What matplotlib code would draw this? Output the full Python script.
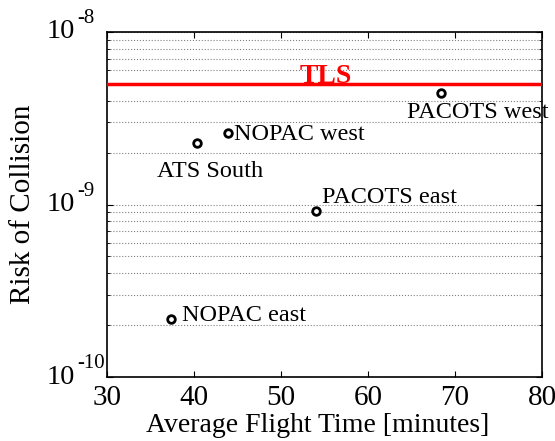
import matplotlib
matplotlib.use("Agg")
import matplotlib.pyplot as plt
import numpy as np
from matplotlib.ticker import LogLocator, NullFormatter

names = ["PACOTS west", "NOPAC west", "ATS South", "PACOTS east", "NOPAC east"]
flight_time = [68.4, 43.9, 40.3, 54.0, 37.3]
risk = [4.45e-9, 2.6e-9, 2.26e-9, 9.2e-10, 2.16e-10]
tls_value = 5e-9
x_ticks = [30, 40, 50, 60, 70, 80]
y_exponents = [-10, -9, -8]

# label offsets in pixels (style)
offsets = {
    "PACOTS west": (37, -20, "center"),
    "NOPAC west": (6, -2, "left"),
    "ATS South": (13, -28, "center"),
    "PACOTS east": (6, 13, "left"),
    "NOPAC east": (11, 4, "left"),
}

plt.rcParams['font.family'] = ['Liberation Serif', 'DejaVu Serif']

fig = plt.figure(figsize=(5.55, 4.41), dpi=100)
ax = fig.add_axes([107/555, 1-377/441, 435/555, 345/441])

ax.set_xlim(30, 80)
ax.set_yscale('log')
ax.set_ylim(10.0**y_exponents[0], 10.0**y_exponents[-1])
ax.set_xticks(x_ticks)
ax.yaxis.set_major_locator(LogLocator(base=10, numticks=10))
ax.yaxis.set_minor_locator(LogLocator(base=10, subs=range(2, 10), numticks=10))
ax.yaxis.set_minor_formatter(NullFormatter())
ax.yaxis.set_major_formatter(NullFormatter())
ax.grid(True, which='both', axis='y', linestyle=':', color='#808080', linewidth=0.8)
ax.tick_params(which='both', direction='in', top=True, right=True)
ax.tick_params(axis='x', labelsize=21, pad=6)
ax.tick_params(which='major', length=4)
ax.tick_params(which='minor', length=2)
for s in ax.spines.values():
    s.set_linewidth(1.2)

# MATLAB-style y tick labels: large base and superscript
for e in y_exponents:
    v = 10.0**e
    ax.annotate('10', xy=(0, v), xycoords=('axes fraction', 'data'),
                xytext=(-60, 0), textcoords='offset pixels',
                ha='left', va='center', fontsize=20.5, annotation_clip=False)
    ax.annotate(str(e), xy=(0, v), xycoords=('axes fraction', 'data'),
                xytext=(-30, 9), textcoords='offset pixels',
                ha='left', va='baseline', fontsize=15, annotation_clip=False)

ax.axhline(tls_value, color='#ff0000', linewidth=2.5, zorder=3)
ax.annotate('TLS', (55.2, tls_value), xytext=(0, 1), textcoords='offset pixels',
            color='#ff0000', fontweight='bold', fontsize=20,
            ha='center', va='baseline')

ax.scatter(flight_time, risk, s=30, facecolors='white', edgecolors='black',
           linewidths=2, zorder=4)
for n, x, y in zip(names, flight_time, risk):
    dx, dy, ha = offsets[n]
    ax.annotate(n, (x, y), xytext=(dx, dy), textcoords='offset pixels',
                ha=ha, va='center', fontsize=17.5, annotation_clip=False)

ax.set_xlabel('Average Flight Time [minutes]', fontsize=20)
ax.xaxis.set_label_coords(0.485, -0.105)
ax.set_ylabel('Risk of Collision', fontsize=21)
ax.yaxis.set_label_coords(-0.163, 0.5)

fig.savefig('out.png', dpi=100)
